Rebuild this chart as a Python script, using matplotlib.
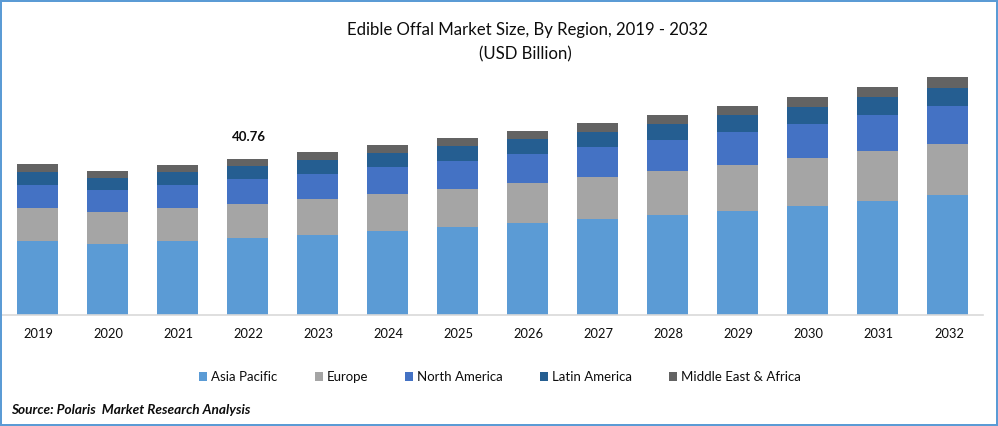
import numpy as np
import matplotlib
matplotlib.use("Agg")
import matplotlib.pyplot as plt
from matplotlib.patches import Rectangle
from matplotlib.transforms import ScaledTranslation

plt.rcParams["font.family"] = ["Lato", "DejaVu Sans"]

years = ["2019", "2020", "2021", "2022", "2023", "2024", "2025",
         "2026", "2027", "2028", "2029", "2030", "2031", "2032"]
asia_pacific = [19.34, 18.55, 19.34, 20.12, 20.90, 21.95, 22.99, 24.04, 25.08, 26.13, 27.18, 28.48, 29.79, 31.36]
europe = [8.62, 8.36, 8.62, 8.88, 9.41, 9.67, 9.93, 10.45, 10.97, 11.50, 12.02, 12.54, 13.07, 13.33]
north_america = [6.01, 5.75, 6.01, 6.53, 6.53, 7.06, 7.32, 7.58, 7.84, 8.10, 8.62, 8.88, 9.41, 9.93]
latin_america = [3.40, 3.14, 3.40, 3.40, 3.66, 3.66, 3.92, 3.92, 3.92, 4.18, 4.44, 4.44, 4.70, 4.70]
middle_east = [2.09, 1.83, 1.83, 1.83, 2.09, 2.09, 2.09, 2.09, 2.35, 2.35, 2.35, 2.61, 2.61, 2.87]

series_names = ["Asia Pacific", "Europe", "North America", "Latin America", "Middle East & Africa"]
series_values = [asia_pacific, europe, north_america, latin_america, middle_east]
series_colors = ["#5B9BD5", "#A5A5A5", "#4472C4", "#255E91", "#636363"]

W, H = 998, 426
TEXT = "#0d0d0d"
fig = plt.figure(figsize=(W / 100, H / 100), dpi=100, facecolor="white")

# plot area in pixels: x 2-983, baseline at y=315
ax = fig.add_axes([2 / W, 1 - 315 / H, 981 / W, 245 / H])

x = np.arange(len(years))
bottom = np.zeros(len(years))
for name, vals, col in zip(series_names, series_values, series_colors):
    ax.bar(x, vals, width=0.586, bottom=bottom, color=col, label=name, linewidth=0)
    bottom += np.array(vals)

ax.set_xlim(-0.5, 13.5)
ax.set_ylim(0, 64)
ax.set_yticks([])
ax.set_xticks(x)
ax.set_xticklabels(years, fontsize=9.3, color=TEXT)
ax.tick_params(axis="x", length=0, pad=9.5)
# year labels sit a pixel right of the bar centres
shift = ScaledTranslation(1 / 100, 0, fig.dpi_scale_trans)
for lab in ax.get_xticklabels():
    lab.set_transform(lab.get_transform() + shift)
for side in ["top", "right", "left"]:
    ax.spines[side].set_visible(False)
ax.spines["bottom"].set_color("#D9D9D9")
ax.spines["bottom"].set_linewidth(1.2)
ax.patch.set_alpha(0)

# label only on the base year
ax.annotate("40.76", (3, bottom[3]), xytext=(1, 11.7), textcoords="offset points",
            ha="center", va="bottom", fontsize=9.5, fontweight="bold", color=TEXT)

fig.text(527 / W, 1 - 30 / H, "Edible Offal Market Size, By Region, 2019 - 2032",
         ha="center", va="center", fontsize=12.1, color=TEXT)
fig.text(525 / W, 1 - 54 / H, "(USD Billion)",
         ha="center", va="center", fontsize=12.1, color=TEXT)

fig.legend(loc="center", bbox_to_anchor=(500 / W, 1 - 377 / H), ncol=5, frameon=False,
           fontsize=9.5, labelcolor=TEXT, handlelength=0.6, handleheight=0.6,
           handletextpad=0.3, columnspacing=2.81, borderpad=0)

fig.text(11 / W, 1 - 410 / H, "Source: Polaris  Market Research Analysis",
         ha="left", va="center", fontsize=9.8, fontweight="bold", fontstyle="italic", color=TEXT)

# blue frame around the whole picture
fig.add_artist(Rectangle((1 / W, 1 / H), (W - 2) / W, (H - 2) / H, transform=fig.transFigure,
                         fill=False, edgecolor="#5B9BD5", linewidth=1.44))

fig.savefig("out.png", dpi=100)
